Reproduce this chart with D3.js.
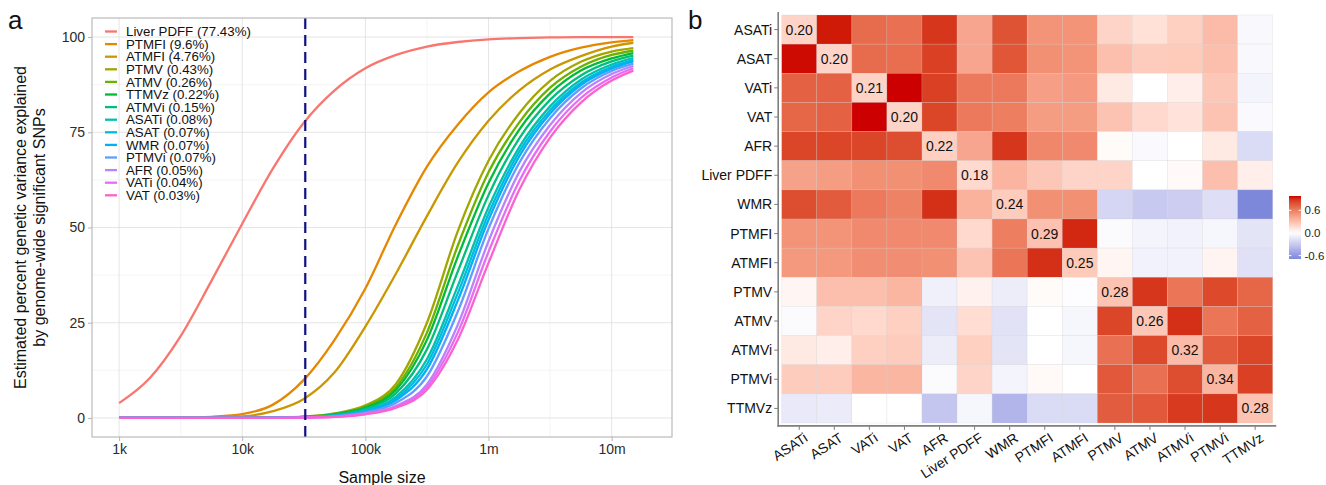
<!DOCTYPE html>
<html>
<head>
<meta charset="UTF-8">
<title>Projected variance explained and genetic correlations</title>
<style>
body { margin: 0; background: #fff; }
svg { font-family: "Liberation Sans", Arial, Helvetica, sans-serif; }
.grid-major line { stroke: #dedede; stroke-width: 0.8px; }
.grid-minor line { stroke: #efefef; stroke-width: 0.6px; }
.curves path { fill: none; stroke-width: 2.3px; }
</style>
<script src="https://d3js.org/d3.v7.min.js"></script>
</head>
<body>
<svg id="fig" width="1326" height="485"></svg>
<script>

// ---------------- panel a : projected % variance explained ----------------
var sampleSize = [1e3, 1778, 3162, 5623, 1e4, 17783, 31623, 56234, 1e5, 177828,
                  316228, 562341, 1e6, 1778279, 3162278, 5623413, 1e7, 1.5e7];

var liverPdff = [3.9, 10.5, 21.5, 36, 51, 65.5, 77.5, 86, 91.8, 95.3, 97.5, 98.7, 99.4, 99.7, 99.9, 100, 100, 100];
var ptmfi  = [0, 0, 0.05, 0.3, 1, 3.5, 10, 20.5, 34, 51, 66, 77, 85.5, 91, 94.8, 97.2, 98.6, 99.2];
var atmfi  = [0, 0, 0, 0.1, 0.4, 1.8, 5, 12, 24, 38, 53, 67, 78, 86, 91.5, 95, 97.5, 98.5];
var ptmv   = [0, 0, 0, 0.01, 0.03, 0.12, 0.35, 1.2, 3.3, 9, 25, 49, 67.5, 80, 88.5, 93.5, 96.2, 97.1];
var atmv   = [0, 0, 0, 0, 0.02, 0.11, 0.31, 1.06, 2.96, 8.1, 22.4, 45.2, 64.5, 77.6, 86.7, 92.2, 95.3, 96.4];
var ttmvz  = [0, 0, 0, 0, 0.02, 0.1, 0.29, 0.96, 2.7, 7.4, 20.5, 42.3, 61.7, 75.7, 85.2, 91.2, 94.4, 95.8];
var atmvi  = [0, 0, 0, 0, 0.02, 0.08, 0.25, 0.83, 2.38, 6.5, 18, 38.4, 58.5, 73.4, 83.5, 89.9, 93.6, 95.1];
var asati  = [0, 0, 0, 0, 0.02, 0.07, 0.21, 0.69, 2.04, 5.6, 15.4, 34.6, 55.3, 71.1, 81.8, 88.8, 92.8, 94.5];
var asat   = [0, 0, 0, 0, 0.02, 0.06, 0.19, 0.62, 1.87, 5.1, 14.1, 32.7, 53.6, 69.9, 80.8, 88, 92.2, 94];
var wmr    = [0, 0, 0, 0, 0.01, 0.05, 0.18, 0.55, 1.7, 4.7, 12.8, 30.8, 52, 68.7, 79.9, 87.4, 91.7, 93.6];
var ptmvi  = [0, 0, 0, 0, 0.01, 0.04, 0.15, 0.45, 1.45, 4.0, 10.9, 27.9, 49.7, 67, 78.7, 86.5, 91.1, 93];
var afr    = [0, 0, 0, 0, 0.01, 0.03, 0.12, 0.34, 1.17, 3.2, 8.8, 24.4, 46.4, 64.6, 76.9, 85.3, 90.3, 92.4];
var vati   = [0, 0, 0, 0, 0.01, 0.03, 0.11, 0.31, 1.06, 2.96, 8.1, 22.4, 43.6, 62.2, 75.2, 84, 89.4, 91.8];
var vat    = [0, 0, 0, 0, 0.01, 0.02, 0.1, 0.29, 0.96, 2.7, 7.4, 20.5, 40.7, 59.9, 73.6, 82.8, 88.6, 91.2];

var curveSeries = [liverPdff, ptmfi, atmfi, ptmv, atmv, ttmvz, atmvi, asati, asat, wmr, ptmvi, afr, vati, vat];
var legendLabels = ["Liver PDFF (77.43%)", "PTMFI (9.6%)", "ATMFI (4.76%)", "PTMV (0.43%)",
  "ATMV (0.26%)", "TTMVz (0.22%)", "ATMVi (0.15%)", "ASATi (0.08%)", "ASAT (0.07%)",
  "WMR (0.07%)", "PTMVi (0.07%)", "AFR (0.05%)", "VATi (0.04%)", "VAT (0.03%)"];
var curveColors = ["#F8766D", "#E58700", "#C99800", "#A3A500", "#6BB100", "#00BA38", "#00BF7D",
  "#00C0AF", "#00BCD8", "#00B0F6", "#619CFF", "#B983FF", "#E76BF3", "#FD61D1"];

var currentN = 32500;
var xTicks = [1e3, 1e4, 1e5, 1e6, 1e7];
var xTickLabels = ["1k", "10k", "100k", "1m", "10m"];
var yTicks = [0, 25, 50, 75, 100];

// ---------------- panel b : genetic correlation heatmap ----------------
var traits = ["ASATi", "ASAT", "VATi", "VAT", "AFR", "Liver PDFF", "WMR",
              "PTMFI", "ATMFI", "PTMV", "ATMV", "ATMVi", "PTMVi", "TTMVz"];
var h2 = [0.20, 0.20, 0.21, 0.20, 0.22, 0.18, 0.24, 0.29, 0.25, 0.28, 0.26, 0.32, 0.34, 0.28];
var rgRows = [
  [null, 0.95, 0.68, 0.66, 0.88, 0.42, 0.78, 0.50, 0.50, 0.20, 0.14, 0.22, 0.32, -0.04],
  [0.97, null, 0.68, 0.67, 0.85, 0.42, 0.77, 0.52, 0.50, 0.30, 0.24, 0.25, 0.30, -0.04],
  [0.72, 0.72, null, 0.98, 0.85, 0.62, 0.62, 0.45, 0.47, 0.10, 0.00, 0.08, 0.26, -0.06],
  [0.70, 0.72, 0.98, null, 0.83, 0.62, 0.60, 0.46, 0.46, 0.28, 0.18, 0.13, 0.28, -0.03],
  [0.83, 0.83, 0.83, 0.80, null, 0.42, 0.88, 0.56, 0.55, 0.02, -0.03, 0.00, 0.10, -0.20],
  [0.44, 0.46, 0.52, 0.52, 0.55, null, 0.35, 0.26, 0.20, 0.20, 0.00, 0.03, 0.30, 0.08],
  [0.80, 0.75, 0.62, 0.58, 0.90, 0.36, null, 0.52, 0.52, -0.23, -0.30, -0.28, -0.18, -0.69],
  [0.50, 0.50, 0.55, 0.55, 0.55, 0.18, 0.60, null, 0.92, -0.02, -0.06, -0.07, -0.05, -0.15],
  [0.48, 0.48, 0.53, 0.53, 0.52, 0.28, 0.64, 0.90, null, 0.04, -0.07, -0.07, 0.05, -0.17],
  [0.04, 0.30, 0.30, 0.34, -0.08, 0.06, -0.10, 0.02, -0.01, null, 0.88, 0.64, 0.82, 0.70],
  [-0.02, 0.20, 0.18, 0.22, -0.15, 0.16, -0.16, 0.00, -0.05, 0.83, null, 0.90, 0.64, 0.72],
  [0.10, 0.08, 0.22, 0.24, -0.10, 0.22, -0.15, 0.00, -0.05, 0.66, 0.82, null, 0.75, 0.83],
  [0.24, 0.24, 0.34, 0.34, -0.02, 0.20, -0.06, 0.03, 0.00, 0.76, 0.66, 0.80, null, 0.85],
  [-0.12, -0.11, 0.00, 0.00, -0.32, -0.05, -0.42, -0.20, -0.20, 0.74, 0.76, 0.87, 0.88, null]
];
var legendTicks = [-0.6, 0, 0.6];

var svg = d3.select("#fig");

// ===== panel a =====
var pa = { left: 92, right: 672, top: 18, bottom: 437 };
var x = d3.scaleLog().domain([Math.pow(10, 2.78), Math.pow(10, 7.49)]).range([pa.left, pa.right]);
var y = d3.scaleLinear().domain([-5, 105]).range([pa.bottom, pa.top]);

var gA = svg.append("g");

var minorX = [Math.pow(10, 3.5), Math.pow(10, 4.5), Math.pow(10, 5.5), Math.pow(10, 6.5)];
var minorY = [12.5, 37.5, 62.5, 87.5];

gA.append("g").attr("class", "grid-minor").selectAll("line").data(minorX).enter().append("line")
  .attr("x1", d => x(d)).attr("x2", d => x(d)).attr("y1", pa.top).attr("y2", pa.bottom);
gA.append("g").attr("class", "grid-minor").selectAll("line").data(minorY).enter().append("line")
  .attr("y1", d => y(d)).attr("y2", d => y(d)).attr("x1", pa.left).attr("x2", pa.right);
gA.append("g").attr("class", "grid-major").selectAll("line").data(xTicks).enter().append("line")
  .attr("x1", d => x(d)).attr("x2", d => x(d)).attr("y1", pa.top).attr("y2", pa.bottom);
gA.append("g").attr("class", "grid-major").selectAll("line").data(yTicks).enter().append("line")
  .attr("y1", d => y(d)).attr("y2", d => y(d)).attr("x1", pa.left).attr("x2", pa.right);

var line = d3.line()
  .x((d, i) => x(sampleSize[i]))
  .y(d => y(d))
  .curve(d3.curveMonotoneX);

gA.append("g").attr("class", "curves").selectAll("path").data(curveSeries).enter().append("path")
  .attr("d", d => line(d))
  .attr("stroke", (d, i) => curveColors[i]);

gA.append("line")
  .attr("x1", x(currentN)).attr("x2", x(currentN))
  .attr("y1", pa.top).attr("y2", pa.bottom)
  .attr("stroke", "#101080").attr("stroke-width", 2.2)
  .attr("stroke-dasharray", "11,6");

gA.append("rect")
  .attr("x", pa.left).attr("y", pa.top)
  .attr("width", pa.right - pa.left).attr("height", pa.bottom - pa.top)
  .attr("fill", "none").attr("stroke", "#b5b5b5").attr("stroke-width", 1.1);

// axes
var xAxis = d3.axisBottom(x).tickValues(xTicks).tickFormat((d, i) => xTickLabels[i]).tickSize(4).tickPadding(3);
var gx = gA.append("g").attr("transform", "translate(0," + pa.bottom + ")").call(xAxis);
var yAxis = d3.axisLeft(y).tickValues(yTicks).tickSize(4).tickPadding(3);
var gy = gA.append("g").attr("transform", "translate(" + pa.left + ",0)").call(yAxis);
[gx, gy].forEach(function (g) {
  g.select(".domain").remove();
  g.selectAll(".tick line").attr("stroke", "#b5b5b5");
  g.selectAll(".tick text").attr("fill", "#2b2b2b").style("font-size", "14px")
    .style("font-family", "'Liberation Sans', Arial, sans-serif");
});

gA.append("text")
  .attr("x", (pa.left + pa.right) / 2).attr("y", 483)
  .attr("text-anchor", "middle").style("font-size", "16px").attr("fill", "#111")
  .text("Sample size");

var yTitle = gA.append("text")
  .attr("transform", "translate(26," + ((pa.top + pa.bottom) / 2) + ") rotate(-90)")
  .attr("text-anchor", "middle").style("font-size", "16px").attr("fill", "#111");
yTitle.append("tspan").attr("x", 0).attr("dy", 0).text("Estimated percent genetic variance explained");
yTitle.append("tspan").attr("x", 0).attr("dy", 19).text("by genome-wide significant SNPs");

// legend inside plot
var leg = gA.append("g").attr("transform", "translate(105,31.5)");
var legRow = leg.selectAll("g").data(legendLabels).enter().append("g")
  .attr("transform", (d, i) => "translate(0," + (i * 12.6) + ")");
legRow.append("line").attr("x1", 0).attr("x2", 12).attr("y1", 0).attr("y2", 0)
  .attr("stroke", (d, i) => curveColors[i]).attr("stroke-width", 2.3);
legRow.append("text").attr("x", 21).attr("y", 0).attr("dy", "0.35em")
  .style("font-size", "13.3px").attr("fill", "#111").text(d => d);

svg.append("text").attr("x", 8).attr("y", 29).style("font-size", "26px").attr("fill", "#111").text("a");
svg.append("text").attr("x", 688).attr("y", 29).style("font-size", "26px").attr("fill", "#111").text("b");

// ===== panel b =====
var pb = { left: 781.7, right: 1272.7, top: 15, bottom: 423 };
var cx = d3.scaleBand().domain(traits).range([pb.left, pb.right]);
var cy = d3.scaleBand().domain(traits).range([pb.top, pb.bottom]);

var cells = [];
rgRows.forEach(function (row, i) {
  row.forEach(function (v, j) {
    cells.push({ row: traits[i], col: traits[j], value: i === j ? h2[i] : v, diag: i === j });
  });
});

var lim = d3.extent(cells, d => d.value);
var maxAbs = d3.max(lim, d => Math.abs(d));
var fill = d3.scaleLinear()
  .domain([-maxAbs, 0, maxAbs])
  .range([d3.lab(41, 17, -62.5), "#ffffff", "#cc0000"])
  .interpolate(d3.interpolateLab);

var gB = svg.append("g");
gB.selectAll("rect.cell").data(cells).enter().append("rect")
  .attr("class", "cell")
  .attr("x", d => cx(d.col)).attr("y", d => cy(d.row))
  .attr("width", cx.bandwidth()).attr("height", cy.bandwidth())
  .attr("fill", d => fill(d.value))
  .attr("stroke", "rgba(200,200,200,0.35)").attr("stroke-width", 0.6);

gB.selectAll("text.diag").data(cells.filter(d => d.diag)).enter().append("text")
  .attr("class", "diag")
  .attr("x", d => cx(d.col) + cx.bandwidth() / 2)
  .attr("y", d => cy(d.row) + cy.bandwidth() / 2)
  .attr("dy", "0.36em").attr("text-anchor", "middle")
  .style("font-size", "14px").attr("fill", "#111")
  .text(d => d.value.toFixed(2));

var padX = cx.bandwidth() * 0.1, padY = cy.bandwidth() * 0.1;
var axisL = pb.left - padX, axisB = pb.bottom + padY;

// axis lines
gB.append("line").attr("x1", axisL).attr("x2", axisL).attr("y1", pb.top - padY).attr("y2", axisB + 0.8)
  .attr("stroke", "#7f7f7f").attr("stroke-width", 1.6);
gB.append("line").attr("x1", axisL - 0.8).attr("x2", pb.right + padX).attr("y1", axisB).attr("y2", axisB)
  .attr("stroke", "#7f7f7f").attr("stroke-width", 1.6);

// trait labels on both axes
traits.forEach(function (t) {
  var yc = cy(t) + cy.bandwidth() / 2;
  gB.append("line").attr("x1", axisL - 4).attr("x2", axisL).attr("y1", yc).attr("y2", yc)
    .attr("stroke", "#7f7f7f").attr("stroke-width", 1);
  gB.append("text").attr("x", axisL - 6).attr("y", yc).attr("dy", "0.36em")
    .attr("text-anchor", "end").style("font-size", "14px").attr("fill", "#111").text(t);
  var xc = cx(t) + cx.bandwidth() / 2;
  gB.append("line").attr("x1", xc).attr("x2", xc).attr("y1", axisB).attr("y2", axisB + 4)
    .attr("stroke", "#7f7f7f").attr("stroke-width", 1);
  gB.append("text")
    .attr("transform", "translate(" + (xc + 4) + "," + (axisB + 6) + ") rotate(-33)")
    .attr("dy", "0.72em").attr("text-anchor", "end")
    .style("font-size", "14px").attr("fill", "#111").text(t);
});

// colour bar
var cb = { x: 1289, w: 12 };
var cbY = d3.scaleLinear().domain(lim).range([259, 196]);
var defs = svg.append("defs");
var grad = defs.append("linearGradient").attr("id", "cbar")
  .attr("x1", "0").attr("x2", "0").attr("y1", "1").attr("y2", "0");
d3.range(0, 21).forEach(function (k) {
  var v = lim[0] + (lim[1] - lim[0]) * k / 20;
  grad.append("stop").attr("offset", (k * 5) + "%").attr("stop-color", fill(v));
});
svg.append("rect").attr("x", cb.x).attr("y", cbY(lim[1]))
  .attr("width", cb.w).attr("height", cbY(lim[0]) - cbY(lim[1]))
  .attr("fill", "url(#cbar)");
legendTicks.forEach(function (t) {
  var yy = cbY(t);
  svg.append("line").attr("x1", cb.x).attr("x2", cb.x + 2.4).attr("y1", yy).attr("y2", yy)
    .attr("stroke", "#fff").attr("stroke-width", 1);
  svg.append("line").attr("x1", cb.x + cb.w - 2.4).attr("x2", cb.x + cb.w).attr("y1", yy).attr("y2", yy)
    .attr("stroke", "#fff").attr("stroke-width", 1);
  svg.append("text").attr("x", cb.x + cb.w + 3.5).attr("y", yy).attr("dy", "0.36em")
    .style("font-size", "11.5px").attr("fill", "#222").text(t.toFixed(1));
});

</script>
</body>
</html>
